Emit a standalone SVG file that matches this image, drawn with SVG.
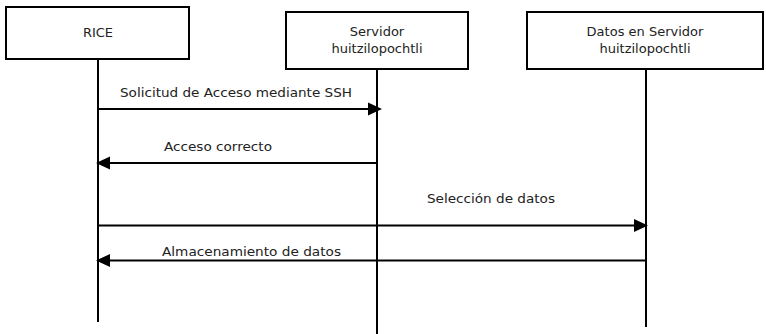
<svg xmlns="http://www.w3.org/2000/svg" width="766" height="334" viewBox="0 0 766 334">
<style>
.box{fill:#fff;stroke:#000;stroke-width:2}
.life{stroke:#000;stroke-width:2;fill:none}
.msg{stroke:#000;stroke-width:2;fill:none}
.head{fill:#000;stroke:none}
text{font-family:"DejaVu Sans","Liberation Sans",sans-serif;font-size:13px;fill:#222}
.c{text-anchor:middle}
</style>
<rect width="766" height="334" fill="#fff"/>
<g id="node-rice">
<rect class="box" x="6" y="7" width="183" height="52"/>
<text class="c" x="98" y="37">RICE</text>
</g>
<g id="node-servidor">
<rect class="box" x="286" y="12" width="182" height="57"/>
<text class="c" x="377" y="36">Servidor</text>
<text class="c" x="377" y="53">huitzilopochtli</text>
</g>
<g id="node-datos">
<rect class="box" x="527" y="12" width="236" height="57"/>
<text class="c" x="645" y="36">Datos en Servidor</text>
<text class="c" x="645" y="53">huitzilopochtli</text>
</g>
<g id="connectors">
<line class="life" x1="98" y1="59" x2="98" y2="322"/>
<line class="life" x1="377" y1="69" x2="377" y2="334"/>
<line class="life" x1="646" y1="69" x2="646" y2="327"/>
<line class="msg" x1="98" y1="109" x2="370" y2="109"/>
<polygon class="head" points="368,102.5 382,109 368,115.5"/>
<text x="120" y="97" textLength="232" lengthAdjust="spacingAndGlyphs">Solicitud de Acceso mediante SSH</text>
<line class="msg" x1="377" y1="163" x2="104" y2="163"/>
<polygon class="head" points="110,156.5 96,163 110,169.5"/>
<text x="164" y="151" textLength="108" lengthAdjust="spacingAndGlyphs">Acceso correcto</text>
<line class="msg" x1="98" y1="225.5" x2="636" y2="225.5"/>
<polygon class="head" points="634,219 648,225.5 634,232"/>
<text x="427" y="203" textLength="128" lengthAdjust="spacingAndGlyphs">Selección de datos</text>
<line class="msg" x1="646" y1="260.5" x2="104" y2="260.5"/>
<polygon class="head" points="110,254 96,260.5 110,267"/>
<text x="162" y="256" textLength="179" lengthAdjust="spacingAndGlyphs">Almacenamiento de datos</text>
</g>
</svg>
